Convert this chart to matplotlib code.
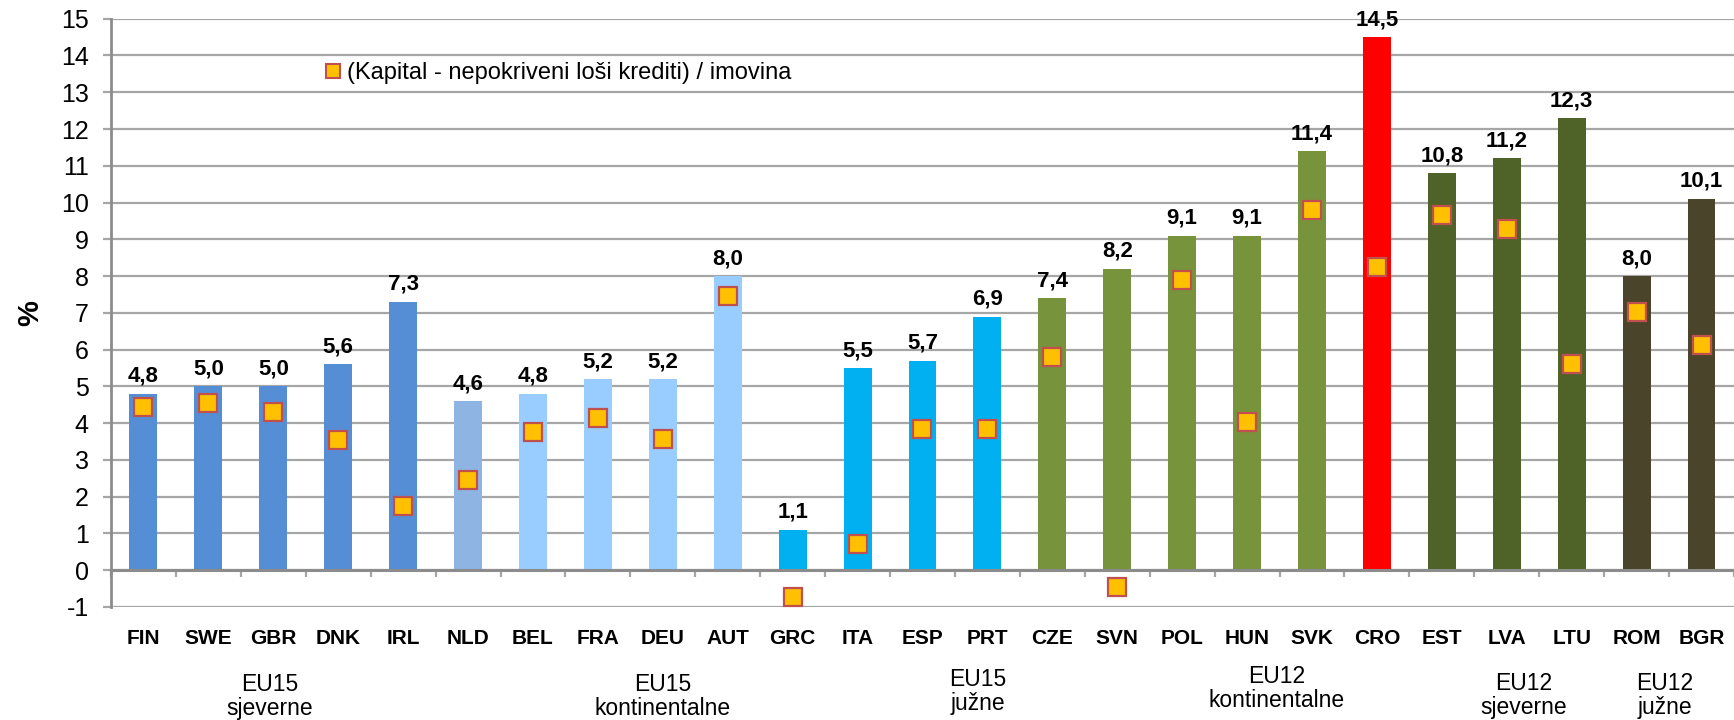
import matplotlib.pyplot as plt
import matplotlib.transforms as mtransforms
import numpy as np
from matplotlib.lines import Line2D

plt.rcParams['font.family'] = ['Liberation Sans', 'DejaVu Sans']
plt.rcParams['axes.unicode_minus'] = False

# Data
countries = ['FIN', 'SWE', 'GBR', 'DNK', 'IRL', 'NLD', 'BEL', 'FRA', 'DEU', 'AUT',
             'GRC', 'ITA', 'ESP', 'PRT', 'CZE', 'SVN', 'POL', 'HUN', 'SVK', 'CRO',
             'EST', 'LVA', 'LTU', 'ROM', 'BGR']
capital_ratio = [4.8, 5.0, 5.0, 5.6, 7.3, 4.6, 4.8, 5.2, 5.2, 8.0,
                 1.1, 5.5, 5.7, 6.9, 7.4, 8.2, 9.1, 9.1, 11.4, 14.5,
                 10.8, 11.2, 12.3, 8.0, 10.1]
uncovered_npl_ratio = [4.45, 4.55, 4.3, 3.55, 1.75, 2.45, 3.75, 4.15, 3.58, 7.45,
                       -0.72, 0.72, 3.85, 3.85, 5.8, -0.45, 7.9, 4.03, 9.8, 8.25,
                       9.65, 9.27, 5.6, 7.03, 6.13]
group_names = ['EU15\nsjeverne', 'EU15\nkontinentalne', 'EU15\njužne',
               'EU12\nkontinentalne', 'EU12\nsjeverne', 'EU12\njužne']
legend_label = '(Kapital - nepokriveni loši krediti) / imovina'

# colours per country group
bar_colors = (['#558ED5'] * 5 + ['#8EB4E3'] + ['#99CCFF'] * 4 + ['#00B0F0'] * 4
              + ['#77933C'] * 5 + ['#FF0000'] + ['#4F6228'] * 3 + ['#4A452A'] * 2)
# where the group captions sit (category index, figure fraction)
group_x = [1.94, 8.0, 12.85, 17.46, 21.26, 23.44]
group_y = [0.033, 0.033, 0.039, 0.044, 0.034, 0.034]

fig = plt.figure(figsize=(17.34, 7.2), dpi=100)
ax = fig.add_axes([0.064, 0.157, 0.936, 0.817])

x = np.arange(len(countries))
ax.bar(x, capital_ratio, width=0.43, color=bar_colors, zorder=2)
ax.plot(x, uncovered_npl_ratio, linestyle='none', marker='s', markersize=12.5,
        markerfacecolor='#FFC000', markeredgecolor='#C0504D', markeredgewidth=1.6,
        zorder=4)

for xi, v in zip(x, capital_ratio):
    ax.annotate(f'{v:.1f}'.replace('.', ','), (xi, v), xytext=(0, 5),
                textcoords='offset points', ha='center', va='bottom',
                fontsize=16, fontweight='bold', zorder=5)

ax.set_xlim(-0.5, len(countries) - 0.5)
ax.set_ylim(-1, 15)
ax.set_yticks(range(-1, 16))
ax.yaxis.grid(True, color='#A6A6A6', linewidth=1.6, zorder=0)
ax.set_axisbelow(True)
ax.tick_params(axis='y', labelsize=18, length=6, width=1.6, color='#A6A6A6', pad=10)

# category axis crosses at zero
ax.spines['bottom'].set_position(('data', 0))
ax.spines['bottom'].set_color('#8C8C8C')
ax.spines['bottom'].set_linewidth(2.2)
ax.spines['bottom'].set_zorder(3)
ax.spines['left'].set_color('#8C8C8C')
ax.spines['left'].set_linewidth(2)
ax.spines['top'].set_visible(False)
ax.spines['right'].set_visible(False)

ax.set_xticks(x)
ax.set_xticklabels(countries, fontsize=15, fontweight='bold')
ax.set_xticks(np.arange(-0.5, len(countries)), minor=True)
ax.tick_params(axis='x', which='major', length=0, pad=42)
ax.tick_params(axis='x', which='minor', length=5, width=1.6, color='#A6A6A6')

ax.set_ylabel('%', fontsize=21, fontweight='bold', labelpad=12)

trans = mtransforms.blended_transform_factory(ax.transData, fig.transFigure)
for gx, gy, name in zip(group_x, group_y, group_names):
    ax.text(gx, gy, name, transform=trans, ha='center', va='center',
            fontsize=16.5, linespacing=1.05)

handle = Line2D([], [], linestyle='none', marker='s', markersize=10.5,
                markerfacecolor='#FFC000', markeredgecolor='#C0504D', markeredgewidth=1.5)
ax.legend([handle], [legend_label], loc='upper left', bbox_to_anchor=(0.132, 0.926),
          frameon=False, fontsize=17, handlelength=0.7, handletextpad=0.23,
          borderpad=0, borderaxespad=0)

fig.savefig('out.png', dpi=100)
